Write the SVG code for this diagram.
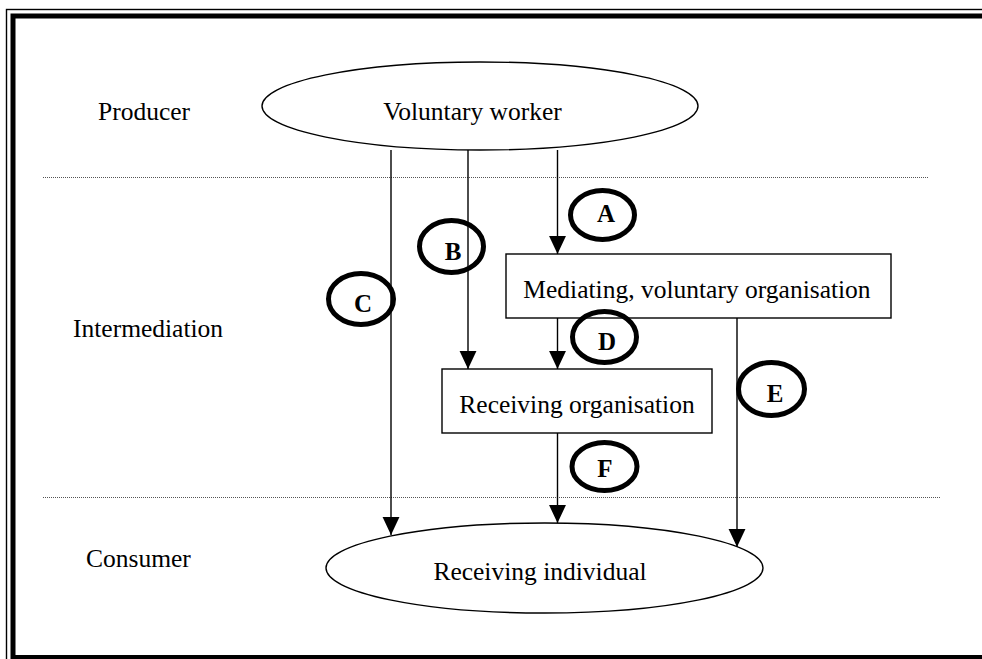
<svg xmlns="http://www.w3.org/2000/svg" width="982" height="659" viewBox="0 0 982 659">
<style>
  .lbl { font-family: "Liberation Serif", "Times New Roman", serif; font-size: 25.5px; fill: #000; }
  .mid { text-anchor: middle; }
  .tag { font-family: "Liberation Serif", "Times New Roman", serif; font-size: 25px; font-weight: bold; fill: #000; text-anchor: middle; }
  .shape { fill: #fff; stroke: #000; stroke-width: 1.4; }
  .ring { fill: none; stroke: #000; stroke-width: 5; }
  .conn { fill: none; stroke: #000; stroke-width: 1.4; marker-end: url(#arrow); }
  .dots { fill: none; stroke: #555; stroke-width: 1; stroke-dasharray: 1 1; }
</style>
<defs>
  <marker id="arrow" markerUnits="userSpaceOnUse" markerWidth="18" markerHeight="18" viewBox="0 -8 16 16" refX="16" refY="0" orient="auto">
    <path d="M0,-7.5 L16,0 L0,7.5 z" fill="#000"/>
  </marker>
</defs>
<rect width="982" height="659" fill="#fff"/>
<g id="frame">
  <rect x="6.5" y="9.5" width="1000" height="700" fill="none" stroke="#000" stroke-width="1.4"/>
  <rect x="13" y="16" width="1000" height="641.5" fill="none" stroke="#000" stroke-width="5"/>
</g>
<g id="separators">
  <line class="dots" x1="43" y1="177.5" x2="928" y2="177.5"/>
  <line class="dots" x1="43" y1="497.5" x2="940" y2="497.5"/>
</g>
<g id="level-labels">
  <text class="lbl" x="98" y="120">Producer</text>
  <text class="lbl" x="73" y="337">Intermediation</text>
  <text class="lbl" x="86" y="567">Consumer</text>
</g>
<g id="voluntary-worker">
  <ellipse class="shape" cx="480" cy="106" rx="218" ry="44"/>
  <text class="lbl mid" x="472.5" y="120">Voluntary worker</text>
</g>
<g id="mediating-organisation">
  <rect class="shape" x="506" y="254" width="385" height="64"/>
  <text class="lbl mid" x="697" y="298">Mediating, voluntary organisation</text>
</g>
<g id="receiving-organisation">
  <rect class="shape" x="442" y="369" width="270" height="64"/>
  <text class="lbl mid" x="577" y="413">Receiving organisation</text>
</g>
<g id="receiving-individual">
  <ellipse class="shape" cx="544.5" cy="568" rx="218.5" ry="45"/>
  <text class="lbl mid" x="540" y="580">Receiving individual</text>
</g>
<g id="connectors">
  <line class="conn" x1="391" y1="150" x2="391" y2="535"/>
  <line class="conn" x1="468" y1="150" x2="468" y2="369"/>
  <line class="conn" x1="557.5" y1="150" x2="557.5" y2="254"/>
  <line class="conn" x1="557.5" y1="318" x2="557.5" y2="369"/>
  <line class="conn" x1="737" y1="318" x2="737" y2="547"/>
  <line class="conn" x1="557.5" y1="433" x2="557.5" y2="523"/>
</g>
<g id="tag-A">
  <ellipse class="ring" cx="602.5" cy="215" rx="32" ry="24.5"/>
  <text class="tag" x="606" y="222">A</text>
</g>
<g id="tag-B">
  <ellipse class="ring" cx="451.5" cy="246.5" rx="32" ry="26"/>
  <text class="tag" x="453" y="260">B</text>
</g>
<g id="tag-C">
  <ellipse class="ring" cx="361" cy="299" rx="32.5" ry="25.5"/>
  <text class="tag" x="363" y="312">C</text>
</g>
<g id="tag-D">
  <ellipse class="ring" cx="604.5" cy="337" rx="32" ry="25.5"/>
  <text class="tag" x="607" y="350">D</text>
</g>
<g id="tag-E">
  <ellipse class="ring" cx="771.5" cy="389" rx="33" ry="26.5"/>
  <text class="tag" x="775" y="402">E</text>
</g>
<g id="tag-F">
  <ellipse class="ring" cx="604.5" cy="466.5" rx="32.5" ry="24"/>
  <text class="tag" x="605" y="477">F</text>
</g>
</svg>
